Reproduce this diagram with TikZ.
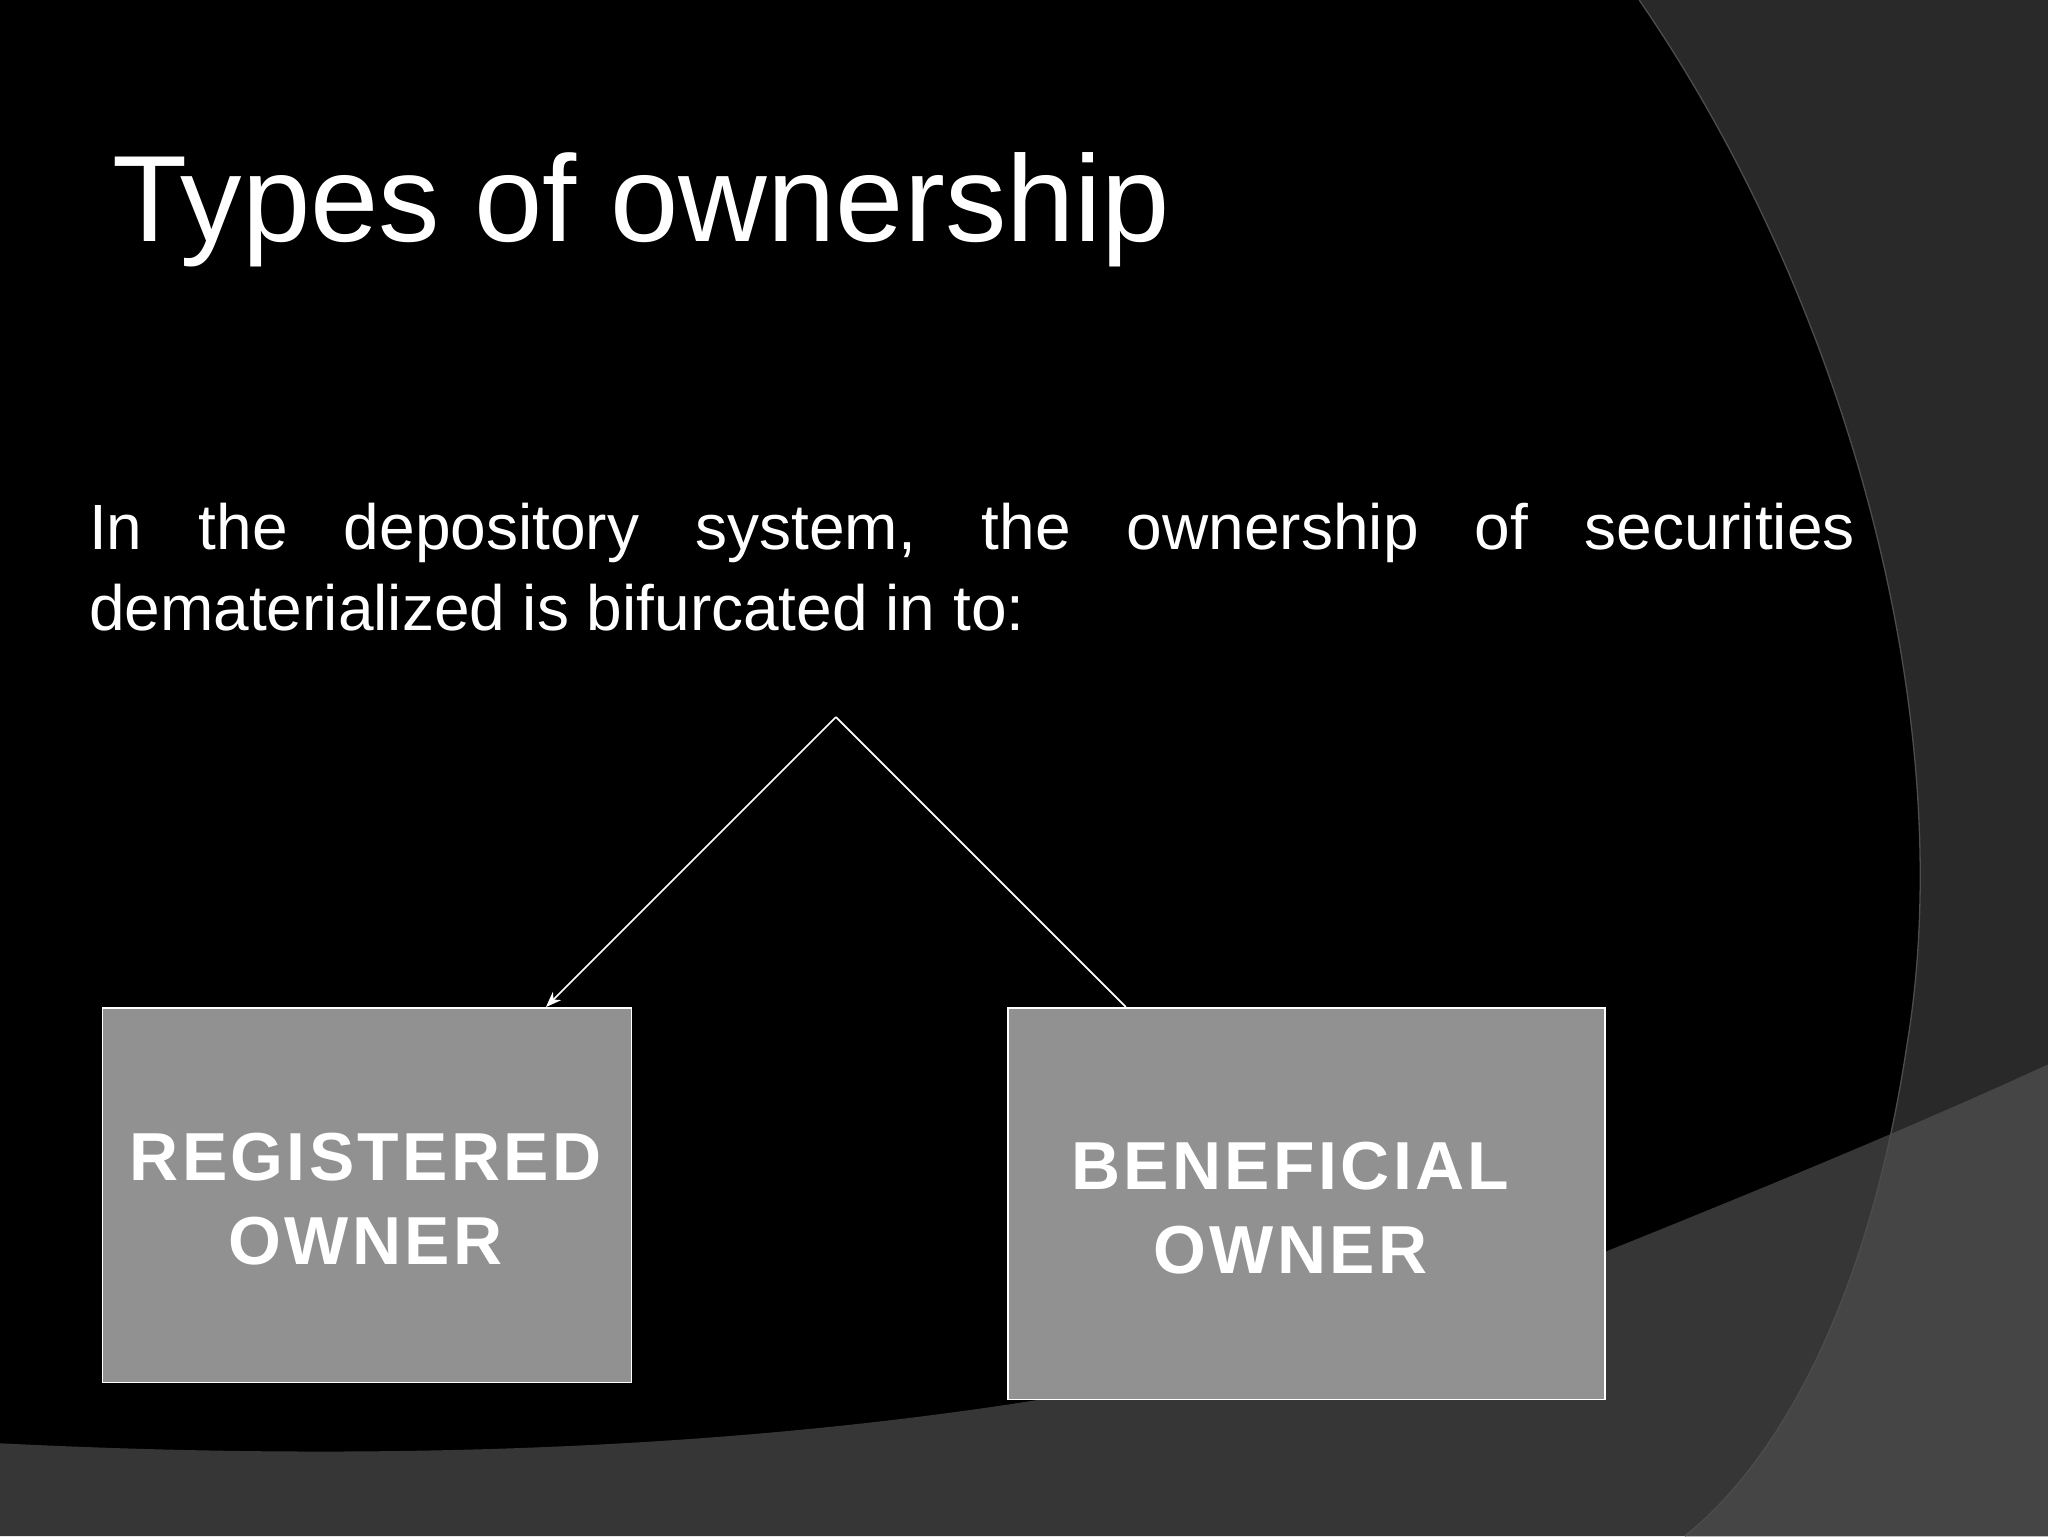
\documentclass[tikz,border=0pt]{standalone}
\usepackage{fontspec}
\setmainfont{Liberation Sans}
\usetikzlibrary{arrows.meta}
\begin{document}
\begin{tikzpicture}[x=1pt,y=-1pt,
  box/.style={draw=white,line width=1.2pt,fill=black!43,inner sep=0pt},
  lbl/.style={text=white,font=\fontsize{52}{64}\selectfont\bfseries\addfontfeature{LetterSpace=5},align=center},
  conn/.style={draw=white,line width=1.3pt}]
\useasboundingbox (0,0) rectangle (1568,1176);
\fill[black] (0,0) rectangle (1568,1176);
% right curved band
\fill[black!84] (1255,0) .. controls (1420,240) and (1500,560) .. (1460,800) .. controls (1430,1000) and (1360,1120) .. (1290,1176) -- (1568,1176) -- (1568,0) -- cycle;
% bottom band
\fill[black!79] (0,1105) .. controls (500,1130) and (900,1080) .. (1200,970) .. controls (1350,910) and (1470,860) .. (1568,815) -- (1568,1176) -- (0,1176) -- cycle;
\begin{scope}
\clip (1255,0) .. controls (1420,240) and (1500,560) .. (1460,800) .. controls (1430,1000) and (1360,1120) .. (1290,1176) -- (1568,1176) -- (1568,0) -- cycle;
\fill[black!73] (0,1105) .. controls (500,1130) and (900,1080) .. (1200,970) .. controls (1350,910) and (1470,860) .. (1568,815) -- (1568,1176) -- (0,1176) -- cycle;
\end{scope}
\draw[black!70,line width=1pt] (1255,0) .. controls (1420,240) and (1500,560) .. (1460,800) .. controls (1430,1000) and (1360,1120) .. (1290,1176);
% texts
\node[anchor=base west,text=white,font=\fontsize{94}{110}\selectfont,inner sep=0pt] (title) at (86,185) {Types of ownership};
\node[anchor=north west,text=white,font=\fontsize{49}{62}\selectfont,inner sep=0pt,align=left] (body) at (68,385) {\makebox[1352pt][s]{In the depository system, the ownership of securities}\\dematerialized is bifurcated in to:};
% boxes
\node[box,minimum width=405pt,minimum height=287pt,anchor=north west] (reg) at (78,771) {};
\node[lbl] at (280,918) {REGISTERED\\OWNER};
\node[box,minimum width=457pt,minimum height=300pt,anchor=north west] (ben) at (771,771) {};
\node[lbl] at (988,925) {BENEFICIAL\\OWNER};
\coordinate (apex) at (640,549);
\draw[conn,-{Stealth[length=12pt,width=9pt]}] (apex) -- (reg.north west -| 418,0);
\draw[conn] (apex) -- (ben.north west -| 862,0);
\end{tikzpicture}
\end{document}
